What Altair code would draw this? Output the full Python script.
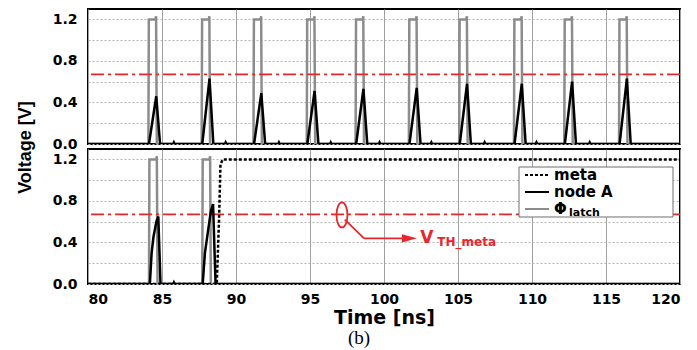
import altair as alt
import pandas as pd

# ---------------- data ----------------
T_DOMAIN = [80, 120]
V_DOMAIN = [0, 1.3]
x_ticks = [80, 85, 90, 95, 100, 105, 110, 115, 120]
y_grid = [0.0, 0.2, 0.4, 0.6, 0.8, 1.0, 1.2]

# top panel: latch pulses (rise / fall times, ns) and node A peak voltages
top_latch_rise = [84.08, 87.68, 91.18, 94.78, 98.08, 101.68, 105.08, 108.78, 112.18, 115.88]
top_latch_fall = [84.65, 88.25, 91.75, 95.35, 98.65, 102.25, 105.65, 109.35, 112.75, 116.45]
top_nodeA_peak = [0.46, 0.63, 0.49, 0.51, 0.53, 0.54, 0.58, 0.58, 0.60, 0.63]
top_glitch_t = [85.8, 89.3, 92.9, 96.4, 99.7, 103.2, 106.8, 110.3, 113.9]

# bottom panel
bot_latch_rise = [84.12, 87.72]
bot_latch_fall = [84.7, 88.3]
bot_nodeA_t = [80, 84.18, 84.3, 84.42, 84.55, 84.62, 84.75, 84.9, 85.75, 85.8, 85.85,
               87.75, 87.9, 88.1, 88.3, 88.45, 88.62, 120]
bot_nodeA_v = [0, 0, 0.3, 0.45, 0.55, 0.6, 0.65, 0, 0, 0.015, 0,
               0, 0.3, 0.5, 0.7, 0.77, 0, 0]
meta_t = [80, 88.7, 88.85, 88.95, 89.1, 120]
meta_v = [0, 0, 0.6, 1.15, 1.2, 1.2]

latch_high = 1.2
latch_bump = 1.23
glitch_v = 0.015
v_th = 0.67

# annotation (data coordinates)
ellipse_t, ellipse_v = 97.16, 0.665
arrow_t = [97.35, 98.65, 98.65]
arrow_v = [0.62, 0.44, 0.44]
arrow_t2 = [98.65, 98.65, 101.3]
arrow_v2 = [0.44, 0.44, 0.44]
head_t, head_v = 101.72, 0.44
vth_t, vth_v = 102.45, 0.44
sub_t, sub_v = 103.6, 0.40

GRAY = "#8c8c8c"
RED = "#e8262b"
FONT = "DejaVu Sans"
LABEL_EXPR = "round(datum.value*10) % 4 == 0 ? format(datum.value, '.1f') : ''"


def latch_series(rises, falls):
    pts = [(T_DOMAIN[0], 0.0)]
    for r, f in zip(rises, falls):
        pts += [(r, 0.0), (r + 0.03, latch_high), (f - 0.09, latch_high),
                (f - 0.05, latch_bump), (f, 0.0)]
    pts.append((T_DOMAIN[1], 0.0))
    return pts


def nodeA_top_series():
    pts = [(T_DOMAIN[0], 0.0), (T_DOMAIN[1], 0.0)]
    for r, f, p in zip(top_latch_rise, top_latch_fall, top_nodeA_peak):
        pts += [(r + 0.04, 0.0), (f - 0.04, p), (f + 0.22, 0.0)]
    for g in top_glitch_t:
        pts += [(g - 0.05, 0.0), (g, glitch_v), (g + 0.05, 0.0)]
    return sorted(pts)


def frame(pts):
    return pd.DataFrame({"t": [p[0] for p in pts], "v": [p[1] for p in pts],
                         "i": list(range(len(pts)))})


top_latch = frame(latch_series(top_latch_rise, top_latch_fall))
top_nodeA = frame(nodeA_top_series())
bot_latch = frame(latch_series(bot_latch_rise, bot_latch_fall))
bot_nodeA = frame(list(zip(bot_nodeA_t, bot_nodeA_v)))
meta_df = frame(list(zip(meta_t, meta_v)))
th_df = pd.DataFrame({"v": [v_th]})
one = pd.DataFrame({"a": [0]})

X_SCALE = alt.Scale(domain=T_DOMAIN, nice=False)
Y_SCALE = alt.Scale(domain=V_DOMAIN, nice=False)

x_axis_top = alt.Axis(values=x_ticks, grid=True, gridColor="#a0a0a0", gridWidth=1,
                      ticks=False, domain=False, labels=False, title=None)
x_axis_bot = alt.Axis(values=x_ticks, grid=True, gridColor="#a0a0a0", gridWidth=1,
                      ticks=False, domain=False, labelFont=FONT, labelFontWeight="bold",
                      labelFontSize=14, labelColor="black", labelPadding=8, labelFlush=True,
                      title="Time [ns]", titleFont=FONT, titleFontSize=19,
                      titleFontWeight="bold", titleColor="black", titlePadding=2)
y_axis_top = alt.Axis(values=y_grid, labelExpr=LABEL_EXPR,
                      grid=True, gridColor="#b5b5b5", gridDash=[2, 2], gridWidth=1,
                      ticks=False, domain=False, labelFont=FONT, labelFontWeight="bold",
                      labelFontSize=14, labelColor="black", labelPadding=11,
                      title="Voltage [V]", titleFont="Liberation Sans", titleFontSize=18,
                      titleFontWeight="bold", titleColor="black", titleX=-63, titleY=138,
                      titleAngle=270, titleAlign="center", titleBaseline="middle")
y_axis_bot = alt.Axis(values=y_grid, labelExpr=LABEL_EXPR,
                      grid=True, gridColor="#b5b5b5", gridDash=[2, 2], gridWidth=1,
                      ticks=False, domain=False, labelFont=FONT, labelFontWeight="bold",
                      labelFontSize=14, labelColor="black", labelPadding=11, title=None)


def enc_xy(top):
    return dict(
        x=alt.X("t:Q", scale=X_SCALE, axis=x_axis_top if top else x_axis_bot),
        y=alt.Y("v:Q", scale=Y_SCALE, axis=y_axis_top if top else y_axis_bot),
    )


def line(df, color, top, dash=None, width=2.5):
    kw = dict(color=color, strokeWidth=width, clip=True)
    if dash:
        kw["strokeDash"] = dash
    return alt.Chart(df).mark_line(**kw).encode(order="i:Q", **enc_xy(top))


def th_rule(top):
    return alt.Chart(th_df).mark_rule(color=RED, strokeWidth=1.6, strokeDash=[13, 4, 3, 4]).encode(
        y=enc_xy(top)["y"])


top = alt.layer(
    line(top_latch, GRAY, True),
    th_rule(True),
    line(top_nodeA, "black", True),
).properties(width=592, height=135)

# annotation
ellipse = alt.Chart(pd.DataFrame({"t": [ellipse_t], "v": [ellipse_v]})).mark_point(
    shape="M-0.44,0A0.44,1,0,1,1,0.44,0A0.44,1,0,1,1,-0.44,0Z", size=625,
    color=RED, strokeWidth=1.8, filled=False, opacity=1).encode(**enc_xy(False))
arrow = alt.Chart(pd.DataFrame({"t": arrow_t, "v": arrow_v, "t2": arrow_t2, "v2": arrow_v2})).mark_rule(
    color=RED, strokeWidth=1.8).encode(x2="t2:Q", y2="v2:Q", **enc_xy(False))
head = alt.Chart(pd.DataFrame({"t": [head_t], "v": [head_v]})).mark_point(
    shape="M-1,-0.55L1,0L-1,0.55Z", size=225, color=RED, filled=True, opacity=1).encode(**enc_xy(False))
vtext = alt.Chart(pd.DataFrame({"t": [vth_t], "v": [vth_v]})).mark_text(
    text="V", align="left", baseline="middle", font=FONT, fontWeight="bold", fontSize=17,
    color=RED).encode(**enc_xy(False))
subtext = alt.Chart(pd.DataFrame({"t": [sub_t], "v": [sub_v]})).mark_text(
    text="TH_meta", align="left", baseline="middle", font=FONT, fontWeight="bold", fontSize=12,
    color=RED).encode(**enc_xy(False))

# legend (drawn manually for the subscript)
leg_box = alt.Chart(one).mark_rect(fill="white", stroke="#6e6e6e", strokeWidth=1).encode(
    x=alt.value(431), x2=alt.value(585), y=alt.value(18), y2=alt.value(68))
leg_meta = alt.Chart(one).mark_rule(color="black", strokeWidth=2, strokeDash=[3, 2]).encode(
    x=alt.value(437), x2=alt.value(461), y=alt.value(26))
leg_node = alt.Chart(one).mark_rule(color="black", strokeWidth=2).encode(
    x=alt.value(437), x2=alt.value(461), y=alt.value(43))
leg_latch = alt.Chart(one).mark_rule(color=GRAY, strokeWidth=2).encode(
    x=alt.value(437), x2=alt.value(461), y=alt.value(60))


def ltxt(s, x, y, size):
    return alt.Chart(one).mark_text(text=s, align="left", baseline="middle", font=FONT,
                                    fontWeight="bold", fontSize=size, color="black").encode(
        x=alt.value(x), y=alt.value(y))


caption = alt.Chart(one).mark_text(text="(b)", align="center", baseline="middle",
                                   font="Liberation Serif", fontSize=19, color="black").encode(
    x=alt.value(271), y=alt.value(189))

bottom = alt.layer(
    line(bot_latch, GRAY, False),
    th_rule(False),
    line(bot_nodeA, "black", False),
    line(meta_df, "black", False, dash=[3, 2]),
    ellipse, arrow, head, vtext, subtext,
    leg_box, leg_meta, leg_node, leg_latch,
    ltxt("meta", 466, 26, 15), ltxt("node A", 466, 43, 15),
    ltxt("Φ", 466, 60, 15), ltxt("latch", 481, 64, 11),
    caption,
).properties(width=592, height=135)

chart = alt.vconcat(top, bottom, spacing=5, bounds="flush").properties(
    padding={"left": 7, "top": 0, "right": 0, "bottom": 0}
).configure_view(stroke="black", strokeWidth=2)

chart.save("out.html", embed_options={"renderer": "svg", "actions": False})
